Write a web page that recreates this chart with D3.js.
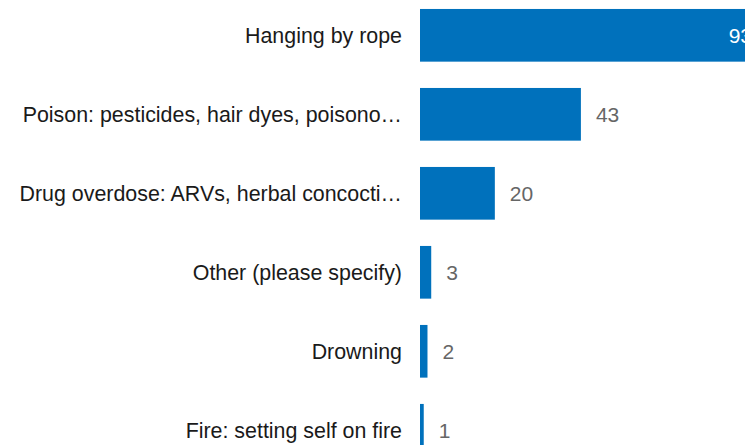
<!DOCTYPE html>
<html>
<head>
<meta charset="utf-8">
<script src="https://cdn.jsdelivr.net/npm/d3@7"></script>
<style>
  body { margin: 0; background: #fff; overflow: hidden; }
  svg { display: block; }
</style>
</head>
<body>
<svg id="svg" width="745" height="445"></svg>
<script>
const categories = [
  "Hanging by rope",
  "Poison: pesticides, hair dyes, poisono\u2026",
  "Drug overdose: ARVs, herbal concocti\u2026",
  "Other (please specify)",
  "Drowning",
  "Fire: setting self on fire"
];
const values = [93, 43, 20, 3, 2, 1];

const fontFamily = "'Liberation Sans', Arial, sans-serif";
const barColor = "#0071bc";

const svg = d3.select("#svg");

const x = d3.scaleLinear().domain([0, 93]).range([420, 768]);
const y = d3
  .scaleBand()
  .domain(categories)
  .range([-4.2, 469.8])
  .paddingInner(0.333)
  .paddingOuter(0.1667);

const rows = categories.map((c, i) => ({ label: c, value: values[i] }));

const g = svg.selectAll("g.row").data(rows).join("g").attr("class", "row");

g.append("rect")
  .attr("x", x(0))
  .attr("y", d => y(d.label))
  .attr("width", d => x(d.value) - x(0))
  .attr("height", y.bandwidth())
  .attr("fill", barColor);

g.append("text")
  .attr("x", 402)
  .attr("y", d => y(d.label) + y.bandwidth() / 2)
  .attr("dy", "0.35em")
  .attr("text-anchor", "end")
  .attr("font-family", fontFamily)
  .attr("font-size", 21.4)
  .attr("fill", "#1a1a1a")
  .text(d => d.label);

// value labels: inside the bar when it is long, outside otherwise
g.append("text")
  .attr("x", d => (d.value > 60 ? x(d.value) - 16 : x(d.value) + 15))
  .attr("y", d => y(d.label) + y.bandwidth() / 2)
  .attr("dy", "0.37em")
  .attr("text-anchor", d => (d.value > 60 ? "end" : "start"))
  .attr("font-family", fontFamily)
  .attr("font-size", 21)
  .attr("fill", d => (d.value > 60 ? "#fff" : "#666"))
  .text(d => d.value);
</script>
</body>
</html>
